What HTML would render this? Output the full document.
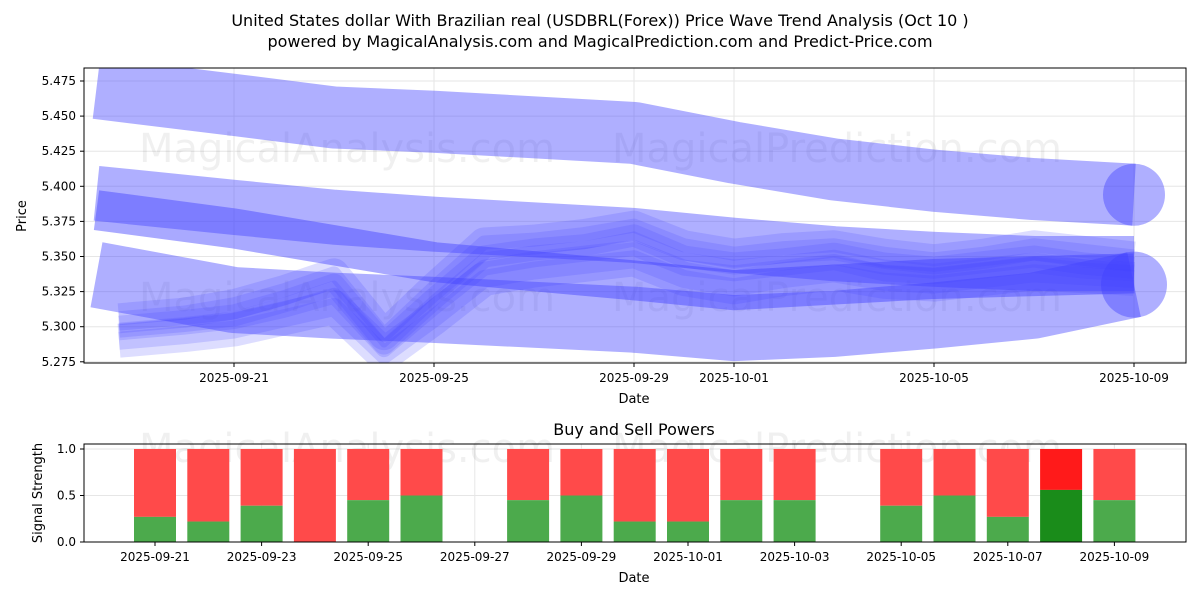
<!DOCTYPE html>
<html><head><meta charset="utf-8"><style>
body{margin:0;background:#fff;font-family:"Liberation Sans","DejaVu Sans",sans-serif}
svg text{font-family:"DejaVu Sans","Liberation Sans",sans-serif}
</style></head><body>
<svg id="c" width="1200" height="600" xmlns="http://www.w3.org/2000/svg">
<defs><clipPath id="clipT"><rect x="84" y="68" width="1102" height="295"/></clipPath></defs>
<text x="600" y="26" text-anchor="middle" font-size="16">United States dollar With Brazilian real (USDBRL(Forex)) Price Wave Trend Analysis (Oct 10 )</text>
<text x="600" y="47" text-anchor="middle" font-size="16">powered by MagicalAnalysis.com and MagicalPrediction.com and Predict-Price.com</text>
<g id="topg"></g><g id="plotg" clip-path="url(#clipT)"></g><g id="frameg"></g><g id="botg"></g>
</svg>
<script>
// ---- data ----
const waveDays = [0.25,3,5,7,11,13,15,17,19,21];  // days from 2025-09-18
const bandTop = [5.470,5.458,5.449,5.446,5.438,5.424,5.412,5.404,5.398,5.394];
const bandMid = [5.395,5.385,5.378,5.373,5.365,5.358,5.352,5.348,5.345,5.345];
const bandDark= [5.383,5.370,5.358,5.346,5.333,5.326,5.330,5.334,5.336,5.338];
const bandLow = [5.337,5.319,5.315,5.312,5.305,5.299,5.302,5.308,5.315,5.330];
const noiseDays = [0.7,2,3,4,5,6,7,8,9,10,11,12,13,14,15,16,17,18,19,20,21];
const noise1 = [5.300,5.304,5.308,5.318,5.330,5.288,5.320,5.350,5.355,5.358,5.365,5.350,5.345,5.348,5.352,5.345,5.342,5.346,5.350,5.345,5.342];
const noise2 = [5.296,5.300,5.304,5.312,5.322,5.284,5.314,5.342,5.348,5.352,5.356,5.342,5.338,5.342,5.346,5.338,5.336,5.340,5.344,5.340,5.338];
const noise3 = [5.306,5.310,5.316,5.326,5.338,5.294,5.328,5.360,5.362,5.366,5.372,5.358,5.352,5.356,5.358,5.352,5.348,5.352,5.358,5.354,5.350];
const noise4 = [5.290,5.294,5.298,5.306,5.314,5.280,5.306,5.334,5.340,5.344,5.348,5.334,5.328,5.334,5.338,5.332,5.330,5.334,5.338,5.336,5.334];
const yTicks = [5.275,5.300,5.325,5.350,5.375,5.400,5.425,5.450,5.475];
const topTickLabels = ["2025-09-21","2025-09-25","2025-09-29","2025-10-01","2025-10-05","2025-10-09"];
const topTickDays = [3,7,11,13,17,21];
const barDays = [3,4,5,6,7,8,10,11,12,13,14,15,17,18,19,20,21];
const buyVals = [0.27,0.22,0.39,0.0,0.45,0.5,0.45,0.5,0.22,0.22,0.45,0.45,0.39,0.5,0.27,0.56,0.45];
const botTickLabels = ["2025-09-21","2025-09-23","2025-09-25","2025-09-27","2025-09-29","2025-10-01","2025-10-03","2025-10-05","2025-10-07","2025-10-09"];
const botTickDays = [3,5,7,9,11,13,15,17,19,21];
const sigTicks = [0.0,0.5,1.0];
// ---- scales ----
const NS="http://www.w3.org/2000/svg";
const xT=d=>84+(d)*50, yT=v=>81+(5.475-v)/0.025*35.1;
const xB=d=>155+(d-3)*53.3, yB=v=>542-v*93;
function mk(t,a,p){const e=document.createElementNS(NS,t);for(const k in a)e.setAttribute(k,a[k]);(p||document.getElementById('c')).appendChild(e);return e;}
const topG=document.getElementById('topg'), botG=document.getElementById('botg'), plotG=document.getElementById('plotg'), frameG=document.getElementById('frameg');
for(let i=0;i<yTicks.length;i++){const y=yT(yTicks[i]);
 const g=mk('line',{x1:84,x2:1186,y1:y,y2:y,stroke:'#e6e6e6'},topG);
 
 
 mk('line',{x1:80,x2:84,y1:y,y2:y,stroke:'#000'},topG);
 const t=mk('text',{x:76,y:y+4,'text-anchor':'end','font-size':12},topG);t.textContent=yTicks[i].toFixed(3);
 
 }
for(let i=0;i<topTickDays.length;i++){const x=xT(topTickDays[i]);
 mk('line',{x1:x,x2:x,y1:68,y2:363,stroke:'#e6e6e6'},topG);mk('line',{x1:x,x2:x,y1:363,y2:367,stroke:'#000'},topG);
 const t=mk('text',{x:x,y:382,'text-anchor':'middle','font-size':12},topG);t.textContent=topTickLabels[i];
 
 }
const wm=[[347,162],[837,162],[347,311],[837,311]];
wm.forEach((p,i)=>{const t=mk('text',{x:p[0],y:p[1],'text-anchor':'middle','font-size':40,fill:'#000','fill-opacity':0.06},topG);t.textContent=i%2?'MagicalPrediction.com':'MagicalAnalysis.com';
 
 });
function line(days,vals,w,op,name,cap){const d=days.map((x,i)=>(i?'L':'M')+xT(x)+','+yT(vals[i])).join('');
 const p=mk('path',{d:d,fill:'none',stroke:'#4040ff','stroke-opacity':op,'stroke-width':w,'stroke-linejoin':'round','stroke-linecap':'butt'},plotG);
 
 
 if(cap){const n=days.length-1;const c=mk('circle',{cx:xT(days[n]),cy:yT(vals[n]),r:w/2,fill:'#4040ff','fill-opacity':op},plotG);
 
 }}
line(waveDays,bandTop,62,0.42,'wave-band-top',true);
line(waveDays,bandMid,55,0.42,'wave-band-mid',false);
line(waveDays,bandDark,40,0.45,'wave-band-dark',false);
line(waveDays,bandLow,66,0.42,'wave-band-low',true);
[[noise1,22],[noise2,16],[noise3,14],[noise4,18],[noise1,8],[noise3,30],[noise4,34]].forEach((s,i)=>line(noiseDays,s[0],s[1],0.18,'wave-line-'+(i+1),false));
mk('rect',{x:84,y:68,width:1102,height:295,fill:'none',stroke:'#000'},frameG);
let t=mk('text',{x:634,y:403,'text-anchor':'middle','font-size':13},frameG);t.textContent='Date';
t=mk('text',{x:26,y:216,'text-anchor':'middle','font-size':13,transform:'rotate(-90 26 216)'},frameG);t.textContent='Price';
// bottom
t=mk('text',{x:634,y:435,'text-anchor':'middle','font-size':16},botG);t.textContent='Buy and Sell Powers';
for(let i=0;i<sigTicks.length;i++){const y=yB(sigTicks[i]);mk('line',{x1:84,x2:1186,y1:y,y2:y,stroke:'#e6e6e6'},botG);mk('line',{x1:80,x2:84,y1:y,y2:y,stroke:'#000'},botG);
 const l=mk('text',{x:76,y:y+4,'text-anchor':'end','font-size':12},botG);l.textContent=sigTicks[i].toFixed(1);}
for(let i=0;i<botTickDays.length;i++){const x=xB(botTickDays[i]);mk('line',{x1:x,x2:x,y1:444,y2:542,stroke:'#e6e6e6'},botG);mk('line',{x1:x,x2:x,y1:542,y2:546,stroke:'#000'},botG);
 const l=mk('text',{x:x,y:561,'text-anchor':'middle','font-size':12},botG);l.textContent=botTickLabels[i];}
wm.slice(0,2).forEach((p,i)=>{const w=mk('text',{x:p[0],y:462,'text-anchor':'middle','font-size':40,fill:'#000','fill-opacity':0.06},botG);w.textContent=i?'MagicalPrediction.com':'MagicalAnalysis.com';});
for(let i=0;i<barDays.length;i++){const x=xB(barDays[i])-21,b=buyVals[i],strong=b>0.55;
 const r=mk('rect',{x:x,y:yB(1),width:42,height:yB(b)-yB(1),fill:strong?'#ff1a1a':'#ff4a4a'},botG);
 
 
 const g=mk('rect',{x:x,y:yB(b),width:42,height:yB(0)-yB(b),fill:strong?'#1a8c1a':'#4caa4c'},botG);
 
 }
mk('rect',{x:84,y:444,width:1102,height:98,fill:'none',stroke:'#000'},botG);
t=mk('text',{x:634,y:582,'text-anchor':'middle','font-size':13},botG);t.textContent='Date';
t=mk('text',{x:42,y:493,'text-anchor':'middle','font-size':13,transform:'rotate(-90 42 493)'},botG);t.textContent='Signal Strength';
</script>
</body></html>
